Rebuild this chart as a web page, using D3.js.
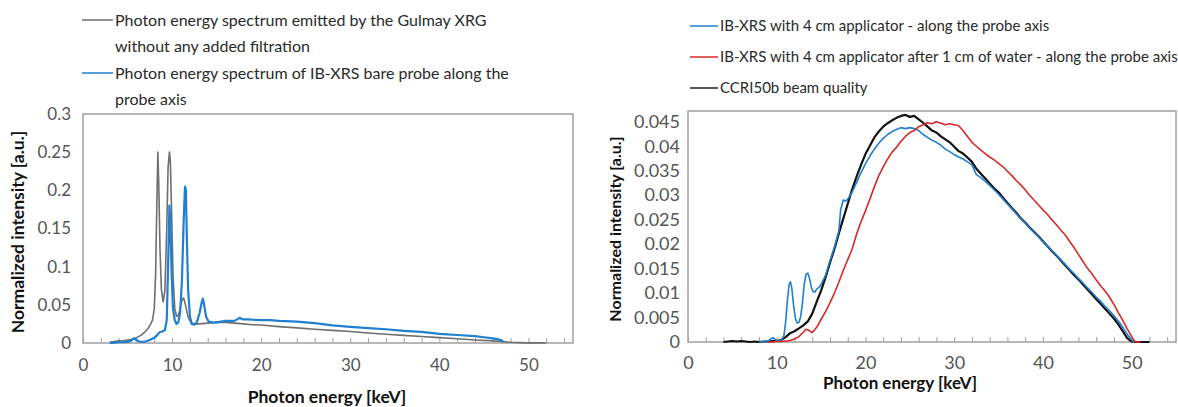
<!DOCTYPE html>
<html lang="en">
<head>
<meta charset="utf-8">
<title>Photon energy spectra</title>
<script src="https://cdn.jsdelivr.net/npm/d3@7/dist/d3.min.js"></script>
<style>
    body{
      margin: 0;
      background: #fff;
    }
    text{
      font-family: Lato, "Open Sans", sans-serif;
    }
    .tick-label{
      fill: #555;
    }
    .legend-text{
      fill: #2a2a2a;
    }
    .axis-title{
      fill: #111;
      font-weight: bold;
    }
</style>
</head>
<body>
<svg width="1178" height="407"></svg>
<script>

// ---- left chart: Gulmay XRG vs IB-XRS bare probe ----
var gulmayE = [3, 3.5, 4, 4.5, 5, 5.5, 6, 6.5, 7, 7.3, 7.6, 7.8, 8.0, 8.15, 8.3, 8.4, 8.5, 8.65, 8.8, 9.0, 9.2, 9.4, 9.55, 9.7, 9.8, 9.95, 10.1, 10.3, 10.5, 10.7, 10.9, 11.1, 11.3, 11.5, 11.8, 12.1, 12.5, 13, 14, 15, 16, 17, 18, 19, 20, 22, 24, 26, 28, 30, 32, 34, 36, 38, 40, 42, 44, 46, 47, 48, 49, 50, 51, 52];
var gulmayI = [0.001, 0.002, 0.003, 0.003, 0.004, 0.005, 0.007, 0.010, 0.015, 0.019, 0.025, 0.030, 0.045, 0.09, 0.19, 0.25, 0.21, 0.12, 0.07, 0.054, 0.07, 0.15, 0.23, 0.25, 0.24, 0.17, 0.09, 0.045, 0.035, 0.036, 0.045, 0.056, 0.059, 0.05, 0.034, 0.027, 0.025, 0.025, 0.026, 0.027, 0.027, 0.026, 0.025, 0.024, 0.0235, 0.0215, 0.0198, 0.018, 0.0165, 0.015, 0.013, 0.0115, 0.010, 0.0085, 0.007, 0.0055, 0.004, 0.0028, 0.002, 0.001, 0.0005, 0.0002, 0.0001, 0];

var bareE = [3, 3.5, 4, 4.5, 5, 5.4, 5.7, 6.0, 6.3, 6.6, 7, 7.5, 8, 8.3, 8.6, 8.9, 9.2, 9.4, 9.55, 9.7, 9.8, 9.95, 10.1, 10.3, 10.5, 10.7, 10.9, 11.1, 11.3, 11.45, 11.55, 11.65, 11.8, 12.0, 12.2, 12.5, 12.8, 13.1, 13.3, 13.45, 13.6, 13.8, 14.1, 14.5, 15, 16, 17, 17.3, 17.6, 17.9, 18.5, 19, 20, 21, 22, 24, 26, 28, 30, 32, 34, 36, 38, 40, 42, 44, 45, 46, 46.5, 47, 47.2];
var bareI = [0, 0.0005, 0.001, 0.001, 0.0015, 0.003, 0.006, 0.004, 0.002, 0.0015, 0.002, 0.004, 0.007, 0.010, 0.014, 0.015, 0.017, 0.03, 0.10, 0.18, 0.16, 0.09, 0.045, 0.03, 0.025, 0.027, 0.04, 0.08, 0.16, 0.205, 0.2, 0.14, 0.07, 0.035, 0.025, 0.024, 0.028, 0.04, 0.052, 0.058, 0.05, 0.035, 0.028, 0.027, 0.027, 0.029, 0.029, 0.031, 0.033, 0.031, 0.031, 0.0305, 0.030, 0.030, 0.029, 0.028, 0.026, 0.023, 0.021, 0.0195, 0.018, 0.016, 0.0145, 0.012, 0.0105, 0.009, 0.0075, 0.006, 0.005, 0.0035, 0.001];

var leftYTicks = [0, 0.05, 0.1, 0.15, 0.2, 0.25, 0.3];
var leftLegend = [
  ["Photon energy spectrum emitted by the Gulmay XRG", "without any added filtration"],
  ["Photon energy spectrum of IB-XRS bare probe along the", "probe axis"]
];

// ---- right chart: IB-XRS with 4 cm applicator vs CCRI50b ----
var applE = [8, 8.5, 9, 9.3, 9.6, 9.9, 10.2, 10.5, 10.8, 11.0, 11.2, 11.4, 11.55, 11.7, 11.9, 12.1, 12.3, 12.5, 12.7, 12.9, 13.1, 13.3, 13.5, 13.7, 13.9, 14.1, 14.3, 14.5, 14.8, 15, 15.5, 16, 16.5, 17, 17.2, 17.5, 17.8, 18, 18.5, 19, 19.5, 20, 20.5, 21, 21.5, 22, 22.5, 23, 23.5, 24, 24.5, 25, 25.5, 26, 26.5, 27, 27.5, 28, 28.5, 29, 29.5, 30, 30.5, 31, 31.5, 32, 32.5, 33, 33.5, 34, 34.5, 35, 35.5, 36, 36.5, 37, 37.5, 38, 38.5, 39, 39.5, 40, 40.5, 41, 41.5, 42, 42.5, 43, 43.5, 44, 44.5, 45, 45.5, 46, 46.5, 47, 47.5, 48, 48.5, 49, 49.5, 50, 50.3];
var applI = [0, 0.0001, 0.0002, 0.0006, 0.0009, 0.0004, 0.0002, 0.0003, 0.0012, 0.004, 0.0085, 0.0118, 0.0123, 0.0110, 0.0075, 0.0048, 0.0039, 0.0040, 0.0052, 0.0080, 0.0118, 0.0138, 0.0141, 0.0130, 0.0112, 0.0103, 0.0102, 0.0108, 0.0112, 0.0118, 0.0136, 0.0166, 0.0194, 0.0226, 0.0270, 0.0290, 0.0288, 0.0292, 0.0306, 0.0326, 0.0346, 0.0364, 0.0380, 0.0394, 0.0406, 0.0416, 0.0424, 0.0430, 0.0434, 0.0438, 0.0436, 0.0438, 0.0436, 0.0432, 0.0424, 0.0418, 0.0412, 0.0408, 0.0402, 0.0394, 0.0389, 0.0383, 0.0378, 0.0374, 0.0368, 0.0362, 0.0342, 0.0336, 0.0328, 0.0320, 0.0311, 0.0302, 0.0292, 0.0282, 0.0272, 0.0262, 0.0252, 0.0243, 0.0233, 0.0224, 0.0215, 0.0205, 0.0196, 0.0187, 0.0178, 0.0168, 0.0159, 0.0149, 0.0140, 0.0130, 0.0121, 0.0111, 0.0102, 0.0092, 0.0083, 0.0073, 0.0064, 0.0054, 0.0043, 0.0030, 0.0016, 0.0004, 0];

var waterE = [9, 9.5, 10, 10.5, 11, 11.5, 12, 12.5, 13, 13.3, 13.6, 14, 14.5, 15, 15.5, 16, 16.5, 17, 17.5, 18, 18.5, 19, 19.5, 20, 20.5, 21, 21.5, 22, 22.5, 23, 23.5, 24, 24.5, 25, 25.5, 26, 26.5, 27, 27.5, 28, 28.5, 29, 29.5, 30, 30.5, 31, 31.5, 32, 32.5, 33, 33.5, 34, 34.5, 35, 35.5, 36, 36.5, 37, 37.5, 38, 38.5, 39, 39.5, 40, 40.5, 41, 41.5, 42, 42.5, 43, 43.5, 44, 44.5, 45, 45.5, 46, 46.5, 47, 47.5, 48, 48.5, 49, 49.5, 50, 50.3, 50.5, 51];
var waterI = [0, 0, 0.0001, 0.0001, 0.0002, 0.0003, 0.0006, 0.0011, 0.0020, 0.0026, 0.0024, 0.0019, 0.0030, 0.0046, 0.0062, 0.0080, 0.0100, 0.0122, 0.0146, 0.0168, 0.0190, 0.0220, 0.0246, 0.0268, 0.0292, 0.0317, 0.0340, 0.0358, 0.0374, 0.0388, 0.0398, 0.0410, 0.0420, 0.0428, 0.0432, 0.0440, 0.0444, 0.0448, 0.0446, 0.0450, 0.0447, 0.0444, 0.0446, 0.0444, 0.0442, 0.0432, 0.0420, 0.0408, 0.0400, 0.0392, 0.0385, 0.0378, 0.0372, 0.0365, 0.0358, 0.0349, 0.0340, 0.0330, 0.0321, 0.0311, 0.0300, 0.0290, 0.0280, 0.0270, 0.0261, 0.0250, 0.0240, 0.0229, 0.0219, 0.0206, 0.0193, 0.0179, 0.0165, 0.0151, 0.0140, 0.0127, 0.0115, 0.0104, 0.0092, 0.0077, 0.0060, 0.0044, 0.0027, 0.0011, 0.0002, 0, 0];

var ccriE = [4, 4.5, 5, 5.5, 6, 6.5, 7, 7.5, 8, 8.5, 9, 9.5, 10, 10.5, 11, 11.5, 12, 12.5, 13, 13.5, 14, 14.5, 15, 15.5, 16, 16.5, 17, 17.5, 18, 18.5, 19, 19.5, 20, 20.5, 21, 21.5, 22, 22.5, 23, 23.5, 24, 24.5, 25, 25.5, 26, 26.5, 27, 27.5, 28, 28.5, 29, 29.5, 30, 30.5, 31, 31.5, 32, 32.5, 33, 33.5, 34, 34.5, 35, 35.5, 36, 36.5, 37, 37.5, 38, 38.5, 39, 39.5, 40, 40.5, 41, 41.5, 42, 42.5, 43, 43.5, 44, 44.5, 45, 45.5, 46, 46.5, 47, 47.5, 48, 48.5, 49, 49.5, 50, 50.5, 51, 51.5, 52];
var ccriI = [0, 0.0001, 0.0002, 0.0001, 0.0002, 0.0001, 0, 0.0001, 0, 0.0001, 0.0001, 0.0002, 0.0002, 0.0004, 0.0010, 0.0018, 0.0022, 0.0028, 0.0034, 0.0042, 0.0058, 0.0082, 0.0105, 0.0132, 0.0162, 0.0190, 0.0222, 0.0252, 0.0282, 0.0312, 0.0338, 0.0362, 0.0384, 0.0401, 0.0418, 0.0430, 0.0440, 0.0447, 0.0453, 0.0458, 0.0462, 0.0464, 0.0460, 0.0462, 0.0455, 0.0448, 0.0440, 0.0432, 0.0428, 0.0420, 0.0414, 0.0408, 0.0399, 0.0390, 0.0385, 0.0377, 0.0368, 0.0354, 0.0344, 0.0334, 0.0324, 0.0314, 0.0306, 0.0295, 0.0284, 0.0274, 0.0264, 0.0253, 0.0244, 0.0234, 0.0225, 0.0216, 0.0206, 0.0196, 0.0186, 0.0177, 0.0167, 0.0157, 0.0147, 0.0137, 0.0128, 0.0118, 0.0108, 0.0098, 0.0088, 0.0078, 0.0068, 0.0058, 0.0048, 0.0036, 0.0022, 0.0008, 0.0001, 0, 0, 0, 0];

var rightYTicks = [0, 0.005, 0.01, 0.015, 0.02, 0.025, 0.03, 0.035, 0.04, 0.045];
var rightLegend = ["IB-XRS with 4 cm applicator - along the probe axis",
  "IB-XRS with 4 cm applicator after 1 cm of water - along the probe axis",
  "CCRI50b beam quality"];

var xLabelTicks = [0, 10, 20, 30, 40, 50];
var xMinorTicks = d3.range(0, 56, 2);

var svg = d3.select("svg");

function zip(xs, ys) {
  return xs.map(function(e, i) { return [e, ys[i]]; });
}

function drawPanel(opt) {
  var x = d3.scaleLinear().domain([0, 55]).range([opt.left, opt.right]);
  var y = d3.scaleLinear().domain([0, opt.ymax]).range([opt.bottom, opt.top]);
  var g = svg.append("g");

  // plot frame
  g.append("rect")
    .attr("x", opt.left).attr("y", opt.top)
    .attr("width", opt.right - opt.left).attr("height", opt.bottom - opt.top)
    .attr("fill", "none").attr("stroke", "#a0a0a0").attr("stroke-width", 1.5);

  // inside minor ticks
  g.append("g")
    .attr("transform", "translate(0," + opt.bottom + ")")
    .call(d3.axisBottom(x).tickValues(xMinorTicks).tickSize(-5).tickFormat(""))
    .call(function(a) {
      a.select(".domain").remove();
      a.selectAll("line").attr("stroke", "#a0a0a0");
    });

  // x labels
  g.append("g")
    .attr("transform", "translate(0," + opt.bottom + ")")
    .call(d3.axisBottom(x).tickValues(xLabelTicks).tickSize(0).tickPadding(opt.xPad).tickFormat(d3.format("d")))
    .call(function(a) {
      a.select(".domain").remove();
      a.selectAll("text").attr("class", "tick-label")
        .style("font-size", opt.tickFont + "px").style("font-family", "Lato");
    });

  // y labels
  g.append("g")
    .attr("transform", "translate(" + opt.left + ",0)")
    .call(d3.axisLeft(y).tickValues(opt.yTicks).tickSize(0).tickPadding(opt.yPad).tickFormat(function(d) { return String(+d.toFixed(3)); }))
    .call(function(a) {
      a.select(".domain").remove();
      a.selectAll("text").attr("class", "tick-label")
        .style("font-size", opt.tickFont + "px").style("font-family", "Lato");
    });

  var line = d3.line()
    .x(function(d) { return x(d[0]); })
    .y(function(d) { return y(d[1]); });

  opt.series.forEach(function(s) {
    g.append("path")
      .datum(zip(s.e, s.v))
      .attr("fill", "none")
      .attr("stroke", s.color)
      .attr("stroke-width", s.width)
      .attr("stroke-linejoin", "round")
      .attr("d", line);
  });

  g.append("text")
    .attr("class", "axis-title")
    .attr("x", opt.xTitle[0]).attr("y", opt.xTitle[1])
    .attr("text-anchor", "middle")
    .style("font-size", opt.titleFont + "px")
    .text("Photon energy [keV]");

  g.append("text")
    .attr("class", "axis-title")
    .attr("transform", "translate(" + opt.yTitle[0] + "," + opt.yTitle[1] + ") rotate(-90)")
    .attr("text-anchor", "middle")
    .attr("dy", "0.35em")
    .style("font-size", opt.yTitleFont + "px")
    .text("Normalized intensity [a.u.]");
}

drawPanel({
  left: 83, right: 573, top: 114, bottom: 343, ymax: 0.3,
  yTicks: leftYTicks, tickFont: 17, xPad: 16, yPad: 12, titleFont: 17.5, yTitleFont: 17.5,
  xTitle: [327, 403], yTitle: [18, 232],
  series: [
    {e: gulmayE, v: gulmayI, color: "#6f6f6f", width: 1.6},
    {e: bareE, v: bareI, color: "#1f7fd0", width: 2.2}
  ]
});

drawPanel({
  left: 688, right: 1176, top: 111, bottom: 342, ymax: 0.0472,
  yTicks: rightYTicks, tickFont: 18, xPad: 14, yPad: 8, titleFont: 17, yTitleFont: 16,
  xTitle: [900, 389], yTitle: [615, 229],
  series: [
    {e: ccriE, v: ccriI, color: "#111", width: 2.2},
    {e: applE, v: applI, color: "#1f7fd0", width: 1.6},
    {e: waterE, v: waterI, color: "#d42a2a", width: 1.6}
  ]
});

// left legend
var leftColors = ["#6f6f6f", "#1f7fd0"];
var leftRows = [20, 73];
leftLegend.forEach(function(rows, i) {
  svg.append("line")
    .attr("x1", 82).attr("x2", 113)
    .attr("y1", leftRows[i]).attr("y2", leftRows[i])
    .attr("stroke", leftColors[i]).attr("stroke-width", 1.5);
  rows.forEach(function(t, j) {
    svg.append("text")
      .attr("class", "legend-text")
      .attr("x", 115).attr("y", leftRows[i] + j * 26)
      .attr("dy", "0.35em")
      .style("font-size", "16px")
      .text(t);
  });
});

// right legend
var rightColors = ["#1f7fd0", "#d42a2a", "#222"];
rightLegend.forEach(function(t, i) {
  var yy = 26 + i * 31;
  svg.append("line")
    .attr("x1", 690).attr("x2", 718)
    .attr("y1", yy).attr("y2", yy)
    .attr("stroke", rightColors[i]).attr("stroke-width", 1.5);
  svg.append("text")
    .attr("class", "legend-text")
    .attr("x", 720).attr("y", yy)
    .attr("dy", "0.35em")
    .style("font-size", "15px")
    .text(t);
});

</script>
</body>
</html>
